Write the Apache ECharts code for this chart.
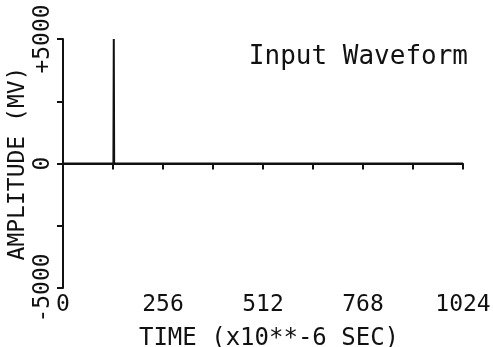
<!DOCTYPE html>
<html>
<head>
<meta charset="utf-8">
<script src="https://cdn.jsdelivr.net/npm/echarts@6/dist/echarts.min.js"></script>
<style>
  html, body { margin: 0; padding: 0; background: #fff; }
  #chart { width: 493px; height: 347px; }
</style>
</head>
<body>
<div id="chart"></div>
<script>
// Sampled input pulse: time in microseconds, amplitude in millivolts
const timeUs = [0, 129, 130, 131, 1024];
const amplitudeMv = [0, 0, 5000, 0, 0];

// Axis ranges and labelled ticks
const xTickLabels = [0, 256, 512, 768, 1024];
const yTickLabels = [-5000, 0, 5000];

const FONT = 'DejaVu Sans Mono';
const INK = '#111';

const chart = echarts.init(document.getElementById('chart'), null, { renderer: 'canvas' });

chart.setOption({
  animation: false,
  backgroundColor: '#fff',
  title: {
    text: 'Input Waveform',
    right: 20,
    top: 39,
    textStyle: { fontFamily: FONT, fontSize: 26, fontWeight: 'normal', color: INK }
  },
  grid: { left: 63, right: 30, top: 39, bottom: 59, containLabel: false, outerBoundsMode: 'none' },
  xAxis: {
    type: 'value',
    min: 0,
    max: 1024,
    interval: 128,
    name: 'TIME (x10**-6 SEC)',
    nameLocation: 'middle',
    nameGap: 39,
    nameMoveOverlap: false,
    nameTextStyle: { fontFamily: FONT, fontSize: 24, color: INK, padding: [0, 0, 0, 12] },
    axisLine: { show: true, lineStyle: { color: INK, width: 2 } },
    axisTick: { show: true, inside: false, length: 6, lineStyle: { color: INK, width: 2 } },
    axisLabel: {
      fontFamily: FONT, fontSize: 23, color: INK, margin: 6,
      formatter: v => xTickLabels.includes(v) ? String(v) : ''
    },
    splitLine: { show: false }
  },
  yAxis: {
    type: 'value',
    min: -5000,
    max: 5000,
    interval: 2500,
    name: 'AMPLITUDE (MV)',
    nameLocation: 'middle',
    nameRotate: 90,
    nameGap: 33,
    nameMoveOverlap: false,
    nameTextStyle: { fontFamily: FONT, fontSize: 23, color: INK },
    axisLine: { show: true, lineStyle: { color: INK, width: 2 } },
    axisTick: { show: true, inside: false, length: 6, lineStyle: { color: INK, width: 2 } },
    axisLabel: {
      fontFamily: FONT, fontSize: 23, color: INK, margin: 8, rotate: 90,
      formatter: v => yTickLabels.includes(v) ? (v > 0 ? '+' + v : String(v)) : ''
    },
    splitLine: { show: false }
  },
  series: [{
    type: 'line',
    data: timeUs.map((t, i) => [t, amplitudeMv[i]]),
    showSymbol: false,
    lineStyle: { color: INK, width: 2 },
    clip: false
  }]
});
</script>
</body>
</html>
